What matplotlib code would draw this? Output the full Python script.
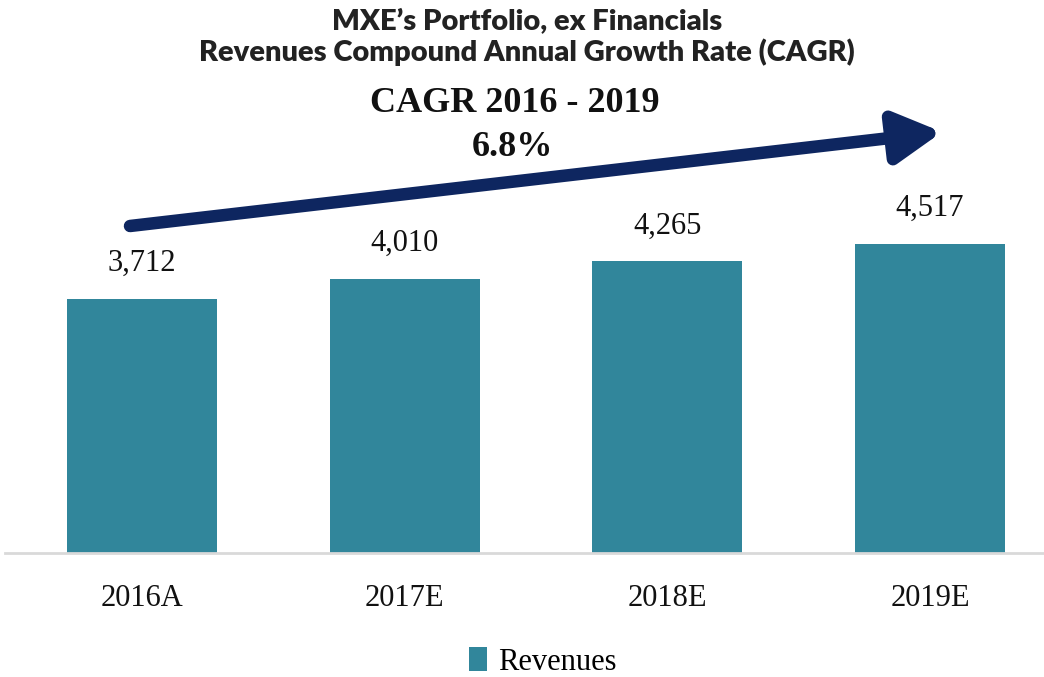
import matplotlib
matplotlib.use("Agg")
import matplotlib.pyplot as plt
from matplotlib.patches import FancyArrowPatch, Patch

categories = ["2016A", "2017E", "2018E", "2019E"]
revenues = [3712, 4010, 4265, 4517]
value_labels = ["3,712", "4,010", "4,265", "4,517"]
cagr_title = "CAGR 2016 - 2019"
cagr_value = "6.8%"
title_lines = ["MXE\u2019s Portfolio, ex Financials",
               "Revenues Compound Annual Growth Rate (CAGR)"]
series_name = "Revenues"

W, H = 1044, 677
fig = plt.figure(figsize=(W / 100, H / 100), dpi=100)

bar_color = "#31869B"
arrow_color = "#0E2660"
serif = ["Liberation Serif", "DejaVu Serif"]

# axes in pixel layout
ax_left, ax_right = 5, 1044
ax_bottom, ax_top = 553, 200
ax = fig.add_axes([ax_left / W, 1 - ax_bottom / H, (ax_right - ax_left) / W, (ax_bottom - ax_top) / H])

x = list(range(len(categories)))
bars = ax.bar(x, revenues, width=0.571, color=bar_color, zorder=2)
ax.set_xlim(-0.522, 3.434)
ax.set_ylim(0, 353 / 0.0684)

for xi, v, lab in zip(x, revenues, value_labels):
    ax.annotate(lab, (xi, v), xytext=(0, 15), textcoords="offset points",
                ha="center", va="bottom", fontsize=22, family=serif, color="#111111")

for s in ["top", "right", "left"]:
    ax.spines[s].set_visible(False)
ax.spines["bottom"].set_color("#D9D9D9")
ax.spines["bottom"].set_linewidth(2)
ax.set_yticks([])
ax.set_xticks(x)
ax.set_xticklabels(categories, fontsize=22, family=serif, color="#111111")
ax.tick_params(axis="x", length=0, pad=22)

# title
tfam = ["Lato", "DejaVu Sans"]
fig.text(0.505, 1 - 22 / H, title_lines[0], ha="center", va="center",
         fontsize=21, fontweight="heavy", family=tfam, color="#222222")
fig.text(0.505, 1 - 52 / H, title_lines[1], ha="center", va="center",
         fontsize=21, fontweight="heavy", family=tfam, color="#222222")

# CAGR annotation
fig.text(515 / W, 1 - 104 / H, cagr_title, ha="center", va="center",
         fontsize=26, fontweight="bold", family=serif, color="#111111")
fig.text(512 / W, 1 - 148 / H, cagr_value, ha="center", va="center",
         fontsize=26, fontweight="bold", family=serif, color="#111111")

arrow = FancyArrowPatch((130 / W, 1 - 226 / H), (942 / W, 1 - 132 / H),
                        transform=fig.transFigure, arrowstyle="-|>,head_length=1.0,head_width=0.55",
                        mutation_scale=28, linewidth=9, color=arrow_color, shrinkA=0, shrinkB=0)
fig.patches.append(arrow)

# legend
handle = Patch(facecolor=bar_color, edgecolor="none")
fig.legend([handle], [series_name], loc="center", bbox_to_anchor=(0.52, 1 - 662 / H),
           frameon=False, prop={"family": serif, "size": 22},
           handlelength=0.6, handleheight=0.8, handletextpad=0.35)

fig.savefig("out.png", dpi=100)
